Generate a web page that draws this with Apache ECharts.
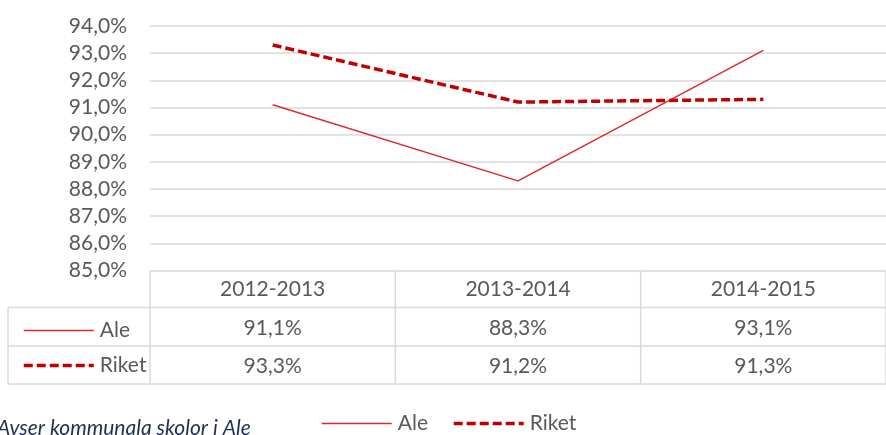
<!DOCTYPE html>
<html>
<head>
<meta charset="utf-8">
<script src="https://cdn.jsdelivr.net/npm/echarts@6/dist/echarts.min.js"></script>
<style>html,body{margin:0;padding:0;background:#fff;}#c{width:886px;height:435px;}</style>
</head>
<body>
<div id="c"></div>
<script>
var categories = ['2012-2013', '2013-2014', '2014-2015'];
var aleValues = [91.1, 88.3, 93.1];
var riketValues = [93.3, 91.2, 91.3];
var seriesNames = ['Ale', 'Riket'];
var footnote = 'Avser kommunala skolor i Ale';

var FONT = 'Lato';
var TXT = '#595959';
var GRIDC = '#d9d9d9';
function pct1(v){ return v.toFixed(1).replace('.', ',') + '%'; }

var chart = echarts.init(document.getElementById('c'));
var legendCommon = {
  itemWidth: 70, itemHeight: 12,
  itemStyle: { opacity: 0, borderWidth: 0 },
  lineStyle: { width: 'inherit' },
  textStyle: { color: TXT, fontFamily: FONT, fontSize: 21, padding: [0,0,0,1] }
};
var option = {
  animation: false,
  grid: { left: 150, right: -9, top: 26, bottom: 164.5 },
  xAxis: {
    type: 'category', data: categories, boundaryGap: true,
    axisLine: { show: false }, axisTick: { show: false },
    axisLabel: { color: TXT, fontFamily: FONT, fontSize: 21, margin: 8 }
  },
  yAxis: {
    type: 'value', min: 85, max: 94, interval: 1,
    axisLine: { show: false }, axisTick: { show: false },
    axisLabel: { color: TXT, fontFamily: FONT, fontSize: 21, margin: 23, formatter: function(v){ return pct1(v); } },
    splitLine: { lineStyle: { color: GRIDC, width: 1.5 } }
  },
  legend: [
    Object.assign({ left: 316, top: 408, itemGap: 24, data: seriesNames }, legendCommon),
    Object.assign({ left: 17, top: 315, orient: 'vertical', itemGap: 14, data: seriesNames, selectedMode: false }, legendCommon)
  ],
  series: [{
    name: seriesNames[0], type: 'line', data: aleValues, symbol: 'none',
    lineStyle: { color: '#dc2a2e', width: 1.5 }, itemStyle: { color: '#dc2a2e' }
  }, {
    name: seriesNames[1], type: 'line', data: riketValues, symbol: 'none',
    lineStyle: { color: '#c00000', width: 3.5, type: [9, 4] }, itemStyle: { color: '#c00000' }
  }]
};
chart.setOption(option);

// data table built from arrays
var rowsY = [271, 307.5, 346, 384];
var bounds = [];
var centers = categories.map(function(c){ return chart.convertToPixel({ xAxisIndex: 0 }, c); });
var bw = centers.length > 1 ? centers[1] - centers[0] : 248;
for (var i = 0; i <= categories.length; i++) bounds.push(centers[0] - bw / 2 + i * bw);
var els = [];
function ln(x1, y1, x2, y2){ els.push({ type: 'line', shape: { x1: x1, y1: y1, x2: x2, y2: y2 }, style: { stroke: GRIDC, lineWidth: 1.5 }, silent: true }); }
for (var r = 1; r < rowsY.length; r++) ln(8, rowsY[r], 886, rowsY[r]);
ln(8, rowsY[1], 8, rowsY[3]);
bounds.forEach(function(b){ ln(b, rowsY[0], b, rowsY[3]); });
[aleValues, riketValues].forEach(function(arr, ri){
  arr.forEach(function(v, ci){
    els.push({ type: 'text', x: centers[ci], y: (rowsY[ri + 1] + rowsY[ri + 2]) / 2 + 1,
      style: { text: pct1(v), fill: TXT, font: '21px ' + FONT, align: 'center', verticalAlign: 'middle' }, silent: true });
  });
});
els.push({ type: 'text', x: -3, y: 439, style: { text: footnote, fill: '#1f3050', font: 'italic 21px ' + FONT, align: 'left', verticalAlign: 'bottom' }, silent: true });
chart.setOption({ graphic: { elements: els } });
</script>
</body>
</html>
